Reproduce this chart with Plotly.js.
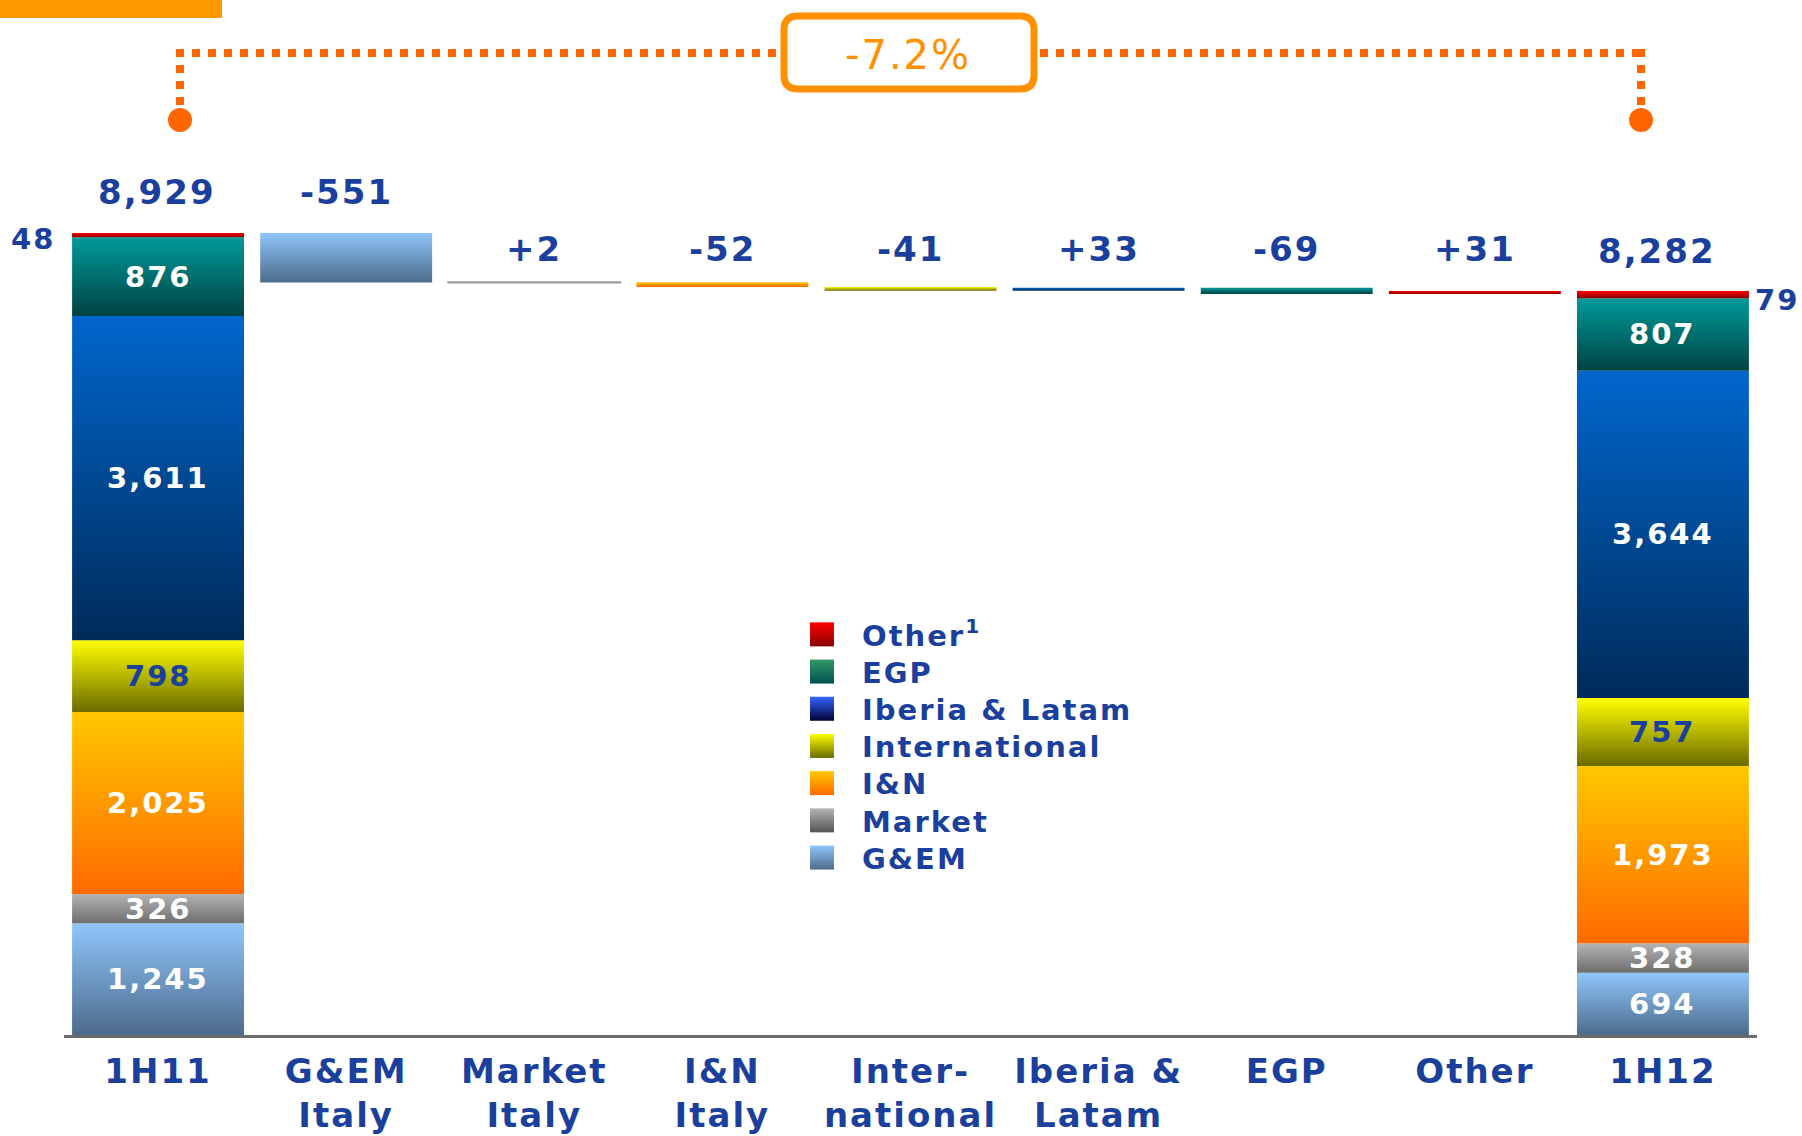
<!DOCTYPE html>
<html>
<head>
<meta charset="utf-8">
<script src="https://cdn.plot.ly/plotly-3.0.1.min.js"></script>
<style>
  html, body { margin: 0; padding: 0; background: #ffffff; }
  #chart { width: 1802px; height: 1136px; }
  svg text { letter-spacing: 2px; }
</style>
</head>
<body>
<div id="chart"></div>
<script>
// ---------------- DATA ----------------
const categories = ['1H11', 'G&EM Italy', 'Market Italy', 'I&N Italy', 'International', 'Iberia & Latam', 'EGP', 'Other', '1H12'];
const tickLabels = ['1H11', 'G&EM<br>Italy', 'Market<br>Italy', 'I&N<br>Italy', 'Inter-<br>national', 'Iberia &<br>Latam', 'EGP', 'Other', '1H12'];
const segmentNames = ['G&EM', 'Market', 'I&N', 'International', 'Iberia & Latam', 'EGP', 'Other'];
const legendLabels = ['G&EM', 'Market', 'I&N', 'International', 'Iberia & Latam', 'EGP', 'Other<sup>1</sup>'];
const values1H11 = [1245, 326, 2025, 798, 3611, 876, 48];
const values1H12 = [694, 328, 1973, 757, 3644, 807, 79];
const deltas = [-551, 2, -52, -41, 33, -69, 31];
const total1H11 = 8929;
const total1H12 = 8282;
const changeLabel = '-7.2%';

// ---------------- STYLE ----------------
const gradients = [
  ['#8fc6fb', '#4d6b8c'],  // G&EM
  ['#b4b4b4', '#6e6e6e'],  // Market
  ['#ffc800', '#ff6a00'],  // I&N
  ['#ffff00', '#6b6b00'],  // International
  ['#0066cc', '#002b5a'],  // Iberia & Latam
  ['#009a9a', '#004242'],  // EGP
  ['#ff0000', '#880000']   // Other
];
const legendGradients = [
  ['#8fc6fb', '#4d6b8c'],
  ['#b4b4b4', '#555555'],
  ['#ffc800', '#ff6a00'],
  ['#ffff00', '#6b6b00'],
  ['#3366ff', '#000033'],
  ['#339966', '#005050'],
  ['#ff0000', '#880000']
];
const midColors = ['#6f9ac4', '#919191', '#ff9900', '#b5b500', '#004a93', '#006e6e', '#cc0000'];
const labelColors = ['#ffffff', '#ffffff', '#ffffff', '#1a3f9c', '#ffffff', '#ffffff', '#ffffff'];
const BLUE = '#1a3f9c';
const FONT = 'DejaVu Sans';

// pixel geometry of the plot area
const W = 1802, H = 1136;
const L = 64, R = 45, T = 0, B = 101;
const plotW = W - L - R, plotH = H - T - B;
const pxPerUnit = 0.08982;
const yTop = plotH / pxPerUnit;
const X = px => (px - L) / plotW;
const Y = py => (H - B - py) / plotH;

// ---------------- BUILD TRACES ----------------
function cumBases(vals) {
  const out = []; let s = 0;
  vals.forEach(v => { out.push(s); s += v; });
  return out;
}
const base11 = cumBases(values1H11);
const base12 = cumBases(values1H12);
const deltaBase = [], deltaTop = [];
let running = total1H11;
deltas.forEach(d => {
  const end = running + d;
  deltaBase.push(Math.min(running, end));
  deltaTop.push(Math.max(running, end));
  running = end;
});

const traces = segmentNames.map((name, i) => ({
  type: 'bar',
  name: legendLabels[i],
  x: [categories[0], categories[i + 1], categories[8]],
  y: [values1H11[i], Math.abs(deltas[i]), values1H12[i]],
  base: [base11[i], deltaBase[i], base12[i]],
  marker: {
    color: midColors[i],
    line: { width: i === 1 ? [0, 2, 0] : 0, color: '#9a9a9a' }
  },
  hoverinfo: 'skip'
}));

// ---------------- ANNOTATIONS ----------------
const fmt = v => v.toLocaleString('en-US');
const annotations = [];
// inner labels on total bars
segmentNames.forEach((name, i) => {
  if (i === 6) return;
  annotations.push({
    x: categories[0], y: base11[i] + values1H11[i] / 2, text: fmt(values1H11[i]),
    showarrow: false, font: { family: FONT, size: 29, color: labelColors[i], weight: 'bold' }
  });
  annotations.push({
    x: categories[8], y: base12[i] + values1H12[i] / 2, text: fmt(values1H12[i]),
    showarrow: false, font: { family: FONT, size: 29, color: labelColors[i], weight: 'bold' }
  });
});
// small "Other" labels beside bars
annotations.push({
  x: categories[0], y: base11[6] + values1H11[6] / 2, text: fmt(values1H11[6]),
  showarrow: false, xshift: -125, yshift: -4,
  font: { family: FONT, size: 29, color: BLUE, weight: 'bold' }
});
annotations.push({
  x: categories[8], y: base12[6] + values1H12[6] / 2, text: fmt(values1H12[6]),
  showarrow: false, xshift: 114, yshift: -5,
  font: { family: FONT, size: 29, color: BLUE, weight: 'bold' }
});
// totals above bars
annotations.push({
  x: categories[0], y: total1H11, text: fmt(total1H11), showarrow: false, yshift: 41, xshift: -1,
  font: { family: FONT, size: 34, color: BLUE, weight: 'bold' }
});
annotations.push({
  x: categories[8], y: total1H12, text: fmt(total1H12), showarrow: false, yshift: 40, xshift: -6,
  font: { family: FONT, size: 34, color: BLUE, weight: 'bold' }
});
// delta labels: first one above its bar, the rest on a common row
const deltaRow = Math.max(...deltaTop.slice(1));
deltas.forEach((d, i) => {
  annotations.push({
    x: categories[i + 1], y: i === 0 ? deltaTop[i] : deltaRow, text: (d > 0 ? '+' : '') + fmt(d),
    showarrow: false, yshift: i === 0 ? 41 : 33,
    font: { family: FONT, size: 34, color: BLUE, weight: 'bold' }
  });
});
// change box label
annotations.push({
  xref: 'paper', yref: 'paper', x: X(908), y: Y(55), xanchor: 'center', yanchor: 'middle',
  text: changeLabel, showarrow: false,
  font: { family: FONT, size: 40, color: '#ff9000' }
});

// ---------------- SHAPES ----------------
function roundRect(x0, y0, x1, y1, r) {
  const p = (x, y) => X(x) + ',' + Y(y);
  return 'M' + p(x0 + r, y0) + ' L' + p(x1 - r, y0) + ' Q' + p(x1, y0) + ' ' + p(x1, y0 + r) +
    ' L' + p(x1, y1 - r) + ' Q' + p(x1, y1) + ' ' + p(x1 - r, y1) +
    ' L' + p(x0 + r, y1) + ' Q' + p(x0, y1) + ' ' + p(x0, y1 - r) +
    ' L' + p(x0, y0 + r) + ' Q' + p(x0, y0) + ' ' + p(x0 + r, y0) + ' Z';
}
const dotLine = { color: '#ff6600', width: 8, dash: '8px,8px' };
const shapes = [
  { type: 'rect', xref: 'paper', yref: 'paper', x0: X(0), x1: X(222), y0: Y(0), y1: Y(18),
    fillcolor: '#ff9900', line: { width: 0 }, layer: 'below' },
  { type: 'line', xref: 'paper', yref: 'paper', x0: X(176), x1: X(1646), y0: Y(53), y1: Y(53), line: dotLine, layer: 'below' },
  { type: 'line', xref: 'paper', yref: 'paper', x0: X(180), x1: X(180), y0: Y(49), y1: Y(110), line: dotLine, layer: 'below' },
  { type: 'line', xref: 'paper', yref: 'paper', x0: X(1641), x1: X(1641), y0: Y(49), y1: Y(110), line: dotLine, layer: 'below' },
  { type: 'circle', xref: 'paper', yref: 'paper', x0: X(168), x1: X(192), y0: Y(108), y1: Y(132),
    fillcolor: '#ff6600', line: { width: 0 }, layer: 'below' },
  { type: 'circle', xref: 'paper', yref: 'paper', x0: X(1629), x1: X(1653), y0: Y(108), y1: Y(132),
    fillcolor: '#ff6600', line: { width: 0 }, layer: 'below' },
  { type: 'path', xref: 'paper', yref: 'paper', path: roundRect(784, 16, 1034, 89, 14),
    fillcolor: '#ffffff', line: { color: '#ff9000', width: 7 }, layer: 'below' }
];

// ---------------- LAYOUT ----------------
const layout = {
  width: W, height: H,
  margin: { l: L, r: R, t: T, b: B, pad: 0 },
  paper_bgcolor: '#ffffff', plot_bgcolor: 'rgba(0,0,0,0)',
  barmode: 'overlay', bargap: 0.086,
  showlegend: true,
  legend: {
    x: X(792), xanchor: 'left', y: Y(609), yanchor: 'top',
    traceorder: 'reversed', bgcolor: 'rgba(0,0,0,0)', borderwidth: 0,
    itemwidth: 60, tracegroupgap: 0,
    font: { family: FONT, size: 29, color: BLUE, weight: 'bold' }
  },
  xaxis: {
    type: 'category', categoryorder: 'array', categoryarray: categories,
    range: [-0.5, 8.5], autorange: false,
    tickvals: categories, ticktext: tickLabels,
    showline: true, linecolor: '#6b6b6b', linewidth: 3,
    showgrid: false, zeroline: false, ticks: '',
    tickfont: { family: FONT, size: 34, color: BLUE, weight: 'bold' },
    ticklabelstandoff: 4,
    fixedrange: true
  },
  yaxis: { range: [0, yTop], autorange: false, visible: false, showgrid: false, zeroline: false, fixedrange: true },
  annotations: annotations,
  shapes: shapes,
  hovermode: false
};

// ---------------- RENDER + GRADIENTS ----------------
Plotly.newPlot('chart', traces, layout, { staticPlot: true, displayModeBar: false }).then(gd => {
  const NS = 'http://www.w3.org/2000/svg';
  const svg = gd.querySelector('svg.main-svg');
  let defs = svg.querySelector('defs');
  if (!defs) { defs = document.createElementNS(NS, 'defs'); svg.insertBefore(defs, svg.firstChild); }
  const addGrad = (id, g) => {
    const lg = document.createElementNS(NS, 'linearGradient');
    lg.setAttribute('id', id);
    lg.setAttribute('x1', '0'); lg.setAttribute('y1', '0');
    lg.setAttribute('x2', '0'); lg.setAttribute('y2', '1');
    [[0, g[0]], [1, g[1]]].forEach(([o, c]) => {
      const st = document.createElementNS(NS, 'stop');
      st.setAttribute('offset', o); st.setAttribute('stop-color', c);
      lg.appendChild(st);
    });
    defs.appendChild(lg);
  };
  gradients.forEach((g, i) => addGrad('segGrad' + i, g));
  legendGradients.forEach((g, i) => addGrad('legGrad' + i, g));
  gd.querySelectorAll('.barlayer .trace').forEach((tr, i) => {
    tr.querySelectorAll('path').forEach(p => {
      const bb = p.getBBox();
      if (bb.height >= 2) p.style.fill = 'url(#segGrad' + i + ')';
    });
  });
  // legend: bigger gradient swatches, tighter rows
  const items = Array.from(gd.querySelectorAll('.legend .traces'));
  const getXY = el => {
    const m = /translate\(\s*([-\d.]+)[ ,]+([-\d.]+)/.exec(el.getAttribute('transform') || '');
    return m ? [parseFloat(m[1]), parseFloat(m[2])] : [0, 0];
  };
  items.sort((a, b) => getXY(a)[1] - getXY(b)[1]);
  const y0 = items.length ? getXY(items[0])[1] : 0;
  items.forEach((tr, k) => {
    const [tx] = getXY(tr);
    tr.setAttribute('transform', 'translate(' + tx + ',' + (y0 + k * 37.2) + ')');
    const txt = tr.querySelector('.legendtext');
    const name = txt ? txt.textContent : '';
    let idx = legendLabels.findIndex(l => l.replace(/<[^>]+>/g, '') === name);
    if (idx < 0 && name.indexOf('Other') === 0) idx = 6;
    tr.querySelectorAll('.legendpoints path').forEach(p => {
      p.setAttribute('d', 'M-17,-12H7V12H-17Z');
      if (idx >= 0) p.style.fill = 'url(#legGrad' + idx + ')';
      p.style.stroke = 'none';
    });
  });
});
</script>
</body>
</html>
